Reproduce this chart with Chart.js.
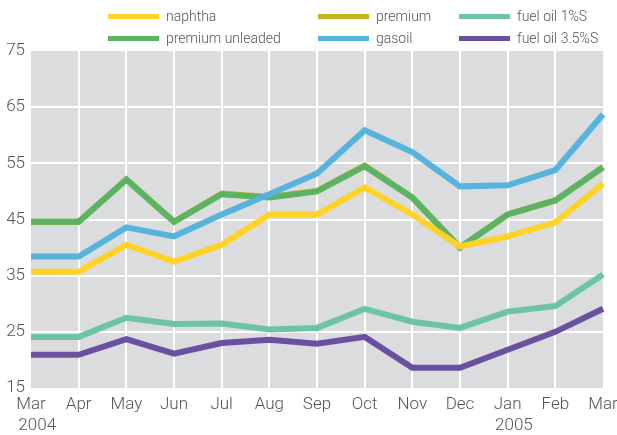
<!DOCTYPE html>
<html>
<head>
<meta charset="utf-8">
<script src="https://cdn.jsdelivr.net/npm/chart.js@4/dist/chart.umd.min.js"></script>
<style>
  html, body { margin: 0; padding: 0; background: #fff; }
  #wrap { position: relative; width: 617px; height: 435px; }
  #legend { position: absolute; left: 0; top: 0; width: 617px; height: 50px; font-family: Roboto, sans-serif; font-weight: 300; font-size: 14px; color: #555; }
  .item { position: absolute; display: flex; align-items: center; white-space: nowrap; }
  .sw { width: 51px; height: 5px; margin-right: 7px; }
</style>
</head>
<body>
<div id="wrap">
  <canvas id="c" width="617" height="435"></canvas>
  <div id="legend"></div>
</div>
<script>
// meses (mar 2004 - mar 2005)
const meses = [['Mar', '   2004'], 'Apr', 'May', 'Jun', 'Jul', 'Aug', 'Sep', 'Oct', 'Nov', 'Dec', ['Jan', '   2005'], 'Feb', 'Mar'];

const naphtha = [35.7, 35.7, 40.5, 37.5, 40.5, 45.9, 45.9, 50.7, 45.9, 40.2, 42.0, 44.5, 51.4];
const premiumUnleaded = [44.6, 44.6, 52.1, 44.6, 49.5, 48.9, 50.0, 54.5, 48.9, 40.0, 45.9, 48.4, 54.3];
const premium = [44.6, 44.6, 52.1, 44.6, 49.6, 49.0, 50.1, 54.6, 48.9, 40.0, 45.9, 48.4, 54.3];
const gasoil = [38.4, 38.4, 43.6, 42.0, 45.9, 49.5, 53.2, 60.9, 57.0, 50.9, 51.1, 53.8, 63.7];
const fuelOil1 = [24.1, 24.1, 27.5, 26.4, 26.5, 25.4, 25.7, 29.1, 26.8, 25.7, 28.6, 29.6, 35.2];
const fuelOil35 = [20.9, 20.9, 23.7, 21.1, 23.0, 23.6, 22.9, 24.1, 18.6, 18.6, 21.8, 25.0, 29.1];

const yTicks = [15, 25, 35, 45, 55, 65, 75];

const series = [
  { label: 'naphtha', data: naphtha, color: '#FFD226', col: 0, row: 0, order: 1 },
  { label: 'premium unleaded', data: premiumUnleaded, color: '#5CB363', col: 0, row: 1, order: 3 },
  { label: 'premium', data: premium, color: '#C4B31E', col: 1, row: 0, order: 4 },
  { label: 'gasoil', data: gasoil, color: '#56B4DC', col: 1, row: 1, order: 2 },
  { label: 'fuel oil 1%S', data: fuelOil1, color: '#6CC3A7', col: 2, row: 0, order: 1 },
  { label: 'fuel oil 3.5%S', data: fuelOil35, color: '#6A51A0', col: 2, row: 1, order: 0 }
];

// leyenda en HTML
const colX = [108, 318, 459];
const rowY = [16, 38];
const leg = document.getElementById('legend');
series.forEach(s => {
  const d = document.createElement('div');
  d.className = 'item';
  d.style.left = colX[s.col] + 'px';
  d.style.top = (rowY[s.row] - 10) + 'px';
  d.style.height = '20px';
  d.innerHTML = `<span class="sw" style="background:${s.color}"></span><span>${s.label}</span>`;
  leg.appendChild(d);
});

const fondo = {
  id: 'fondo',
  beforeDraw(chart) {
    const a = chart.chartArea;
    const ctx = chart.ctx;
    ctx.save();
    ctx.fillStyle = '#DBDCDE';
    ctx.fillRect(a.left, a.top, a.right - a.left, a.bottom - a.top);
    ctx.restore();
  }
};

const gridColor = (ctx, n) => (ctx.index === 0 || ctx.index === n - 1) ? 'rgba(0,0,0,0)' : '#ffffff';
const fuente = { family: 'Roboto', size: 17, weight: 300 };

new Chart(document.getElementById('c').getContext('2d'), {
  type: 'line',
  data: {
    labels: meses,
    datasets: series.map(s => ({
      label: s.label,
      data: s.data,
      borderColor: s.color,
      backgroundColor: s.color,
      borderWidth: 6,
      pointRadius: 0,
      tension: 0,
      fill: false,
      order: s.order
    }))
  },
  options: {
    responsive: false,
    animation: false,
    layout: { padding: { top: 51, right: 14, left: 0, bottom: 0 } },
    plugins: { legend: { display: false }, tooltip: { enabled: false } },
    scales: {
      x: {
        offset: false,
        border: { display: false },
        grid: { color: ctx => gridColor(ctx, meses.length), lineWidth: 2, drawTicks: false },
        ticks: { color: '#555', font: fuente, padding: 7, maxRotation: 0, autoSkip: false },
        afterFit: s => { s.height = 47; s.paddingLeft = 0; s.paddingRight = 0; }
      },
      y: {
        min: 15,
        max: 75,
        border: { display: false },
        grid: { color: ctx => gridColor(ctx, yTicks.length), lineWidth: 2, drawTicks: false },
        afterBuildTicks: s => { s.ticks = yTicks.map(v => ({ value: v })); },
        ticks: { color: '#555', font: fuente, padding: 6 },
        afterFit: s => { s.width = 31; s.paddingTop = 0; s.paddingBottom = 0; }
      }
    }
  },
  plugins: [fondo]
});
</script>
</body>
</html>
